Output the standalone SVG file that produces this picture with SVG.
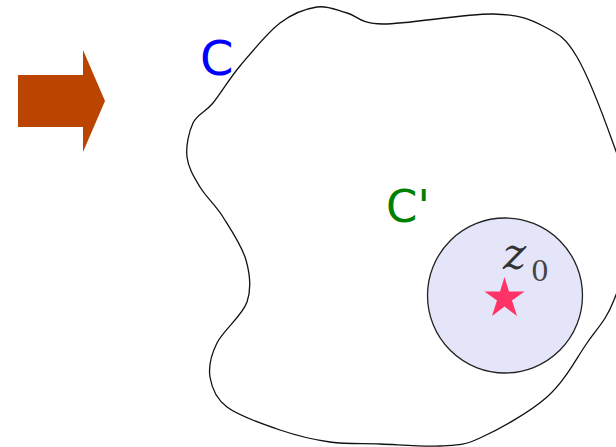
<svg xmlns="http://www.w3.org/2000/svg" width="616" height="447" viewBox="0 0 616 447">
<style>
.outline{fill:none;stroke:#111;stroke-width:1.3}
.lbl{font-family:"DejaVu Sans",sans-serif}
</style>
<rect width="616" height="447" fill="#fff"/>
<g id="arrow">
<polygon points="18,75 83,75 83,50 105,101 83,152 83,127 18,127" fill="#bb4400"/>
</g>
<g id="region-C">
<path class="outline" d="M187,157 C185.8,146.3 188.7,132 193,123 C197.3,114 205.2,112.5 213,103 C220.8,93.5 228.8,79.3 240,66 C251.2,52.7 267.2,32.8 280,23 C292.8,13.2 305.8,8.7 317,7 C328.2,5.3 336,10.2 347,13 C358,15.8 358.7,23.8 383,24 C407.3,24.2 466,13.5 493,14 C520,14.5 531,19.8 545,27 C559,34.2 565.7,37.7 577,57 C588.3,76.3 603.3,115.8 613,143 C622.7,170.2 634.8,193.8 635,220 C635.2,246.2 622,279.5 614,300 C606,320.5 598.2,326.8 587,343 C575.8,359.2 564.8,381.2 547,397 C529.2,412.8 497.8,429.8 480,438 C462.2,446.2 456.7,445 440,446 C423.3,447 398.3,444.7 380,444 C361.7,443.3 346.7,444.3 330,442 C313.3,439.7 297.2,435.8 280,430 C262.8,424.2 238.7,415.8 227,407 C215.3,398.2 211.7,387.7 210,377 C208.3,366.3 210.8,355.5 217,343 C223.2,330.5 242.2,315.8 247,302 C251.8,288.2 250,274.2 246,260 C242,245.8 230.7,229.2 223,217 C215.3,204.8 206,197 200,187 C194,177 188.2,167.7 187,157 Z"/>
<text class="lbl" x="200" y="75" font-size="48" fill="#0000ff">C</text>
</g>
<g id="region-Cprime">
<circle cx="505" cy="295.5" r="77.5" fill="#e5e5fa" stroke="#222" stroke-width="1.3"/>
<text class="lbl" x="386" y="222" font-size="45" fill="#008000">C'</text>
</g>
<g id="z0">
<polygon points="504.5,277 509,291.5 524.5,291.5 512,300.5 517,316 504.5,306.5 492,316 497,300.5 484.5,291.5 500,291.5" fill="#ff3366"/>
<text x="503" y="269" font-family="DejaVu Serif,serif" font-style="italic" font-size="44" fill="#333">z</text>
<text x="531" y="281" font-family="DejaVu Serif,serif" font-size="28" fill="#444">0</text>
</g>
</svg>
